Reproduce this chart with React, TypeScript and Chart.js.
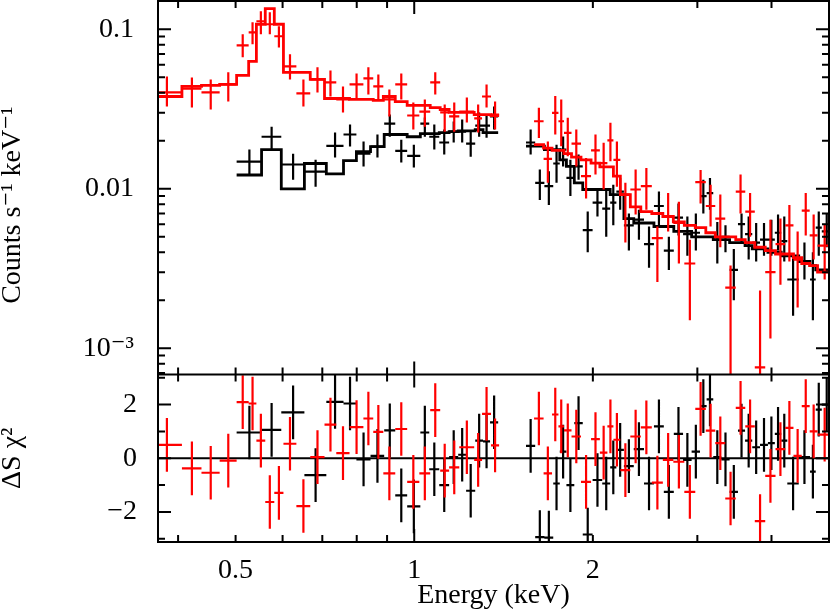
import React, { useEffect, useRef } from 'react';
import { Chart, registerables } from 'chart.js';

Chart.register(...registerables);

// ---------------- axis ranges ----------------
const X_MIN = 0.37;
const X_MAX = 5.0;
const Y_MIN = 6.85e-4;
const Y_MAX = 0.1504;
const R_MIN = -3.12;
const R_MAX = 3.12;

// ---------------- tick definitions ----------------
const xMajorTicks = [1];
const xMinorTicks = [0.4, 0.5, 0.6, 0.7, 0.8, 0.9, 2, 3, 4];
const xLabelValues = [0.5, 1, 2];
const xLabelTexts = ['0.5', '1', '2'];

const yMajorTicks = [0.001, 0.01, 0.1];
const yMinorMantissas = [2, 3, 4, 5, 6, 7, 8, 9];
const yMinorDecades = [0.0001, 0.001, 0.01];
const yLabelValues = [0.001, 0.01, 0.1];
const yLabelTexts = ['10\u207B\u00B3', '0.01', '0.1'];

const rMajorTicks = [-2, 0, 2];
const rMinorTicks = [-3, -1, 1, 3];
const rLabelValues = [-2, 0, 2];
const rLabelTexts = ['\u22122', '0', '2'];

// ---------------- red spectrum (segment 1: 0.37-1.39 keV) ----------------
const redEdges1 = [0.36, 0.406, 0.438, 0.470, 0.502, 0.526, 0.542, 0.561, 0.581, 0.602, 0.633, 0.668, 0.706, 0.739, 0.778, 0.821, 0.853, 0.887, 0.929, 0.973, 1.020, 1.064, 1.106, 1.145, 1.191, 1.262, 1.301, 1.347, 1.390];
const redY1 = [0.0402, 0.0425, 0.0402, 0.0451, 0.0793, 0.0957, 0.1123, 0.1075, 0.0904, 0.0585, 0.0396, 0.0485, 0.0464, 0.0363, 0.0451, 0.0492, 0.0438, 0.0363, 0.0451, 0.0288, 0.0305, 0.0464, 0.0301, 0.0284, 0.0305, 0.0276, 0.0379, 0.0292];
const redLo1 = [0.0328, 0.0323, 0.0314, 0.0352, 0.0667, 0.0805, 0.0930, 0.0930, 0.0770, 0.0485, 0.0328, 0.0402, 0.0379, 0.0301, 0.0363, 0.0390, 0.0363, 0.0284, 0.0363, 0.0235, 0.0245, 0.0390, 0.0228, 0.0228, 0.0260, 0.0225, 0.0323, 0.0235];
const redHi1 = [0.0506, 0.0499, 0.0485, 0.0537, 0.0930, 0.1107, 0.1298, 0.1279, 0.1044, 0.0697, 0.0485, 0.0577, 0.0552, 0.0438, 0.0529, 0.0577, 0.0521, 0.0419, 0.0529, 0.0347, 0.0363, 0.0537, 0.0338, 0.0347, 0.0374, 0.0338, 0.0451, 0.0352];
const redModel1 = [0.0379, 0.0438, 0.0445, 0.0451, 0.0514, 0.0629, 0.1075, 0.1346, 0.1075, 0.0537, 0.0537, 0.0485, 0.0368, 0.0368, 0.0363, 0.0363, 0.0358, 0.0379, 0.0352, 0.0333, 0.0333, 0.0323, 0.0314, 0.0301, 0.0301, 0.0292, 0.0292, 0.0288];
const redRes1 = [0.5, -0.38, -0.54, -0.09, 2.09, 2.04, 0.66, -1.63, -1.29, 0.54, -1.78, 0.04, 1.25, 0.19, 1.16, 1.48, 0.98, -0.56, 1.09, -0.88, -0.56, 1.79, -0.46, -0.34, 0.41, -0.06, 1.65, 0.48];

// ---------------- red spectrum (segment 2: 1.59-5 keV) ----------------
const redEdges2 = [1.592, 1.652, 1.707, 1.750, 1.788, 1.841, 1.910, 1.986, 2.055, 2.116, 2.166, 2.225, 2.313, 2.409, 2.514, 2.624, 2.733, 2.852, 2.976, 3.100, 3.216, 3.343, 3.482, 3.613, 3.749, 3.904, 4.063, 4.219, 4.356, 4.498, 4.639, 4.783, 5.05];
const redY2 = [0.0265, 0.0154, 0.0299, 0.0265, 0.0224, 0.0192, 0.0120, 0.0174, 0.0145, 0.0201, 0.0152, 0.0092, 0.0099, 0.0104, 0.0049, 0.0067, 0.0061, 0.0034, 0.0110, 0.0078, 0.0065, 0.0024, 0.0096, 0.0072, 0.00076, 0.0030, 0.0045, 0.0059, 0.0036, 0.0073, 0.0051, 0.0044];
const redLo2 = [0.0208, 0.0109, 0.0219, 0.0185, 0.0160, 0.0138, 0.0087, 0.0123, 0.0099, 0.0149, 0.0103, 0.0046, 0.0069, 0.0074, 0.0026, 0.0054, 0.0034, 0.0015, 0.0081, 0.0058, 0.0043, 0.0001, 0.0070, 0.0050, 0.0001, 0.00115, 0.0025, 0.0035, 0.0018, 0.0051, 0.0036, 0.0027];
const redHi2 = [0.0322, 0.0198, 0.0381, 0.0363, 0.0279, 0.0235, 0.0156, 0.0219, 0.0194, 0.0259, 0.0198, 0.0109, 0.0132, 0.0135, 0.0058, 0.0094, 0.0083, 0.0048, 0.0131, 0.0106, 0.0092, 0.0033, 0.0123, 0.0094, 0.0023, 0.0064, 0.0065, 0.0079, 0.0054, 0.0094, 0.0069, 0.0060];
const redModel2 = [0.0189, 0.0180, 0.0174, 0.0174, 0.0166, 0.0158, 0.0152, 0.0145, 0.0137, 0.0137, 0.0120, 0.0092, 0.0077, 0.0072, 0.0070, 0.0067, 0.0062, 0.0059, 0.0057, 0.0053, 0.0050, 0.0050, 0.0048, 0.0046, 0.0043, 0.0041, 0.0039, 0.0039, 0.0037, 0.0034, 0.0033, 0.0030];
const redRes2 = [1.48, -0.56, 1.63, 1.19, 1.04, 0.81, -0.88, 0.71, 0.21, 1.19, 0.69, -0.44, 0.81, 1.15, -0.91, -0.06, -0.13, -1.25, 1.84, 1.03, 0.56, -1.5, 1.88, 1.19, -2.34, -0.66, 0.34, 1.13, 0.09, 1.94, 1.0, 0.88];

// ---------------- black spectrum (segment 1: 0.5-1.39 keV) ----------------
const blackEdges1 = [0.502, 0.553, 0.597, 0.653, 0.711, 0.760, 0.799, 0.844, 0.890, 0.929, 0.973, 1.024, 1.060, 1.102, 1.145, 1.186, 1.223, 1.267, 1.306, 1.342, 1.385];
const blackY1 = [0.0148, 0.0212, 0.0142, 0.0128, 0.0186, 0.0219, 0.0166, 0.0184, 0.0256, 0.0173, 0.0161, 0.0256, 0.0212, 0.0195, 0.0228, 0.0228, 0.0192, 0.0249, 0.0249, 0.0284];
const blackLo1 = [0.0122, 0.0176, 0.0114, 0.0103, 0.0157, 0.0184, 0.0138, 0.0157, 0.0212, 0.0146, 0.0136, 0.0212, 0.0176, 0.0164, 0.0195, 0.0195, 0.0159, 0.0212, 0.0209, 0.0235];
const blackHi1 = [0.0176, 0.0245, 0.0166, 0.0152, 0.0225, 0.0253, 0.0198, 0.0219, 0.0292, 0.0203, 0.0189, 0.0280, 0.0253, 0.0235, 0.0264, 0.0272, 0.0228, 0.0301, 0.0292, 0.0328];
const blackModel1 = [0.0122, 0.0176, 0.0100, 0.0144, 0.0124, 0.0150, 0.0171, 0.0184, 0.0219, 0.0219, 0.0212, 0.0222, 0.0222, 0.0225, 0.0228, 0.0231, 0.0231, 0.0235, 0.0225, 0.0225];
const blackRes1 = [0.96, 1.06, 1.71, -0.63, 2.1, 2.04, -0.04, 0.09, 1.04, -1.38, -1.79, 0.96, -0.41, -1.0, 0.04, 0.13, -1.21, 0.66, 0.63, 1.34];

// ---------------- black spectrum (segment 2: 1.54-5 keV) ----------------
const blackEdges2 = [1.543, 1.599, 1.657, 1.715, 1.759, 1.805, 1.861, 1.923, 1.998, 2.074, 2.139, 2.191, 2.256, 2.344, 2.439, 2.535, 2.634, 2.738, 2.838, 2.934, 3.031, 3.110, 3.191, 3.292, 3.400, 3.512, 3.610, 3.712, 3.826, 3.945, 4.052, 4.154, 4.253, 4.446, 4.645, 4.749, 4.862, 5.05];
const blackY2 = [0.0195, 0.0109, 0.0104, 0.0144, 0.0176, 0.0117, 0.0138, 0.0055, 0.0082, 0.0075, 0.0082, 0.0096, 0.0059, 0.0064, 0.0045, 0.0078, 0.0041, 0.0066, 0.0052, 0.0053, 0.0090, 0.0094, 0.0048, 0.0050, 0.0031, 0.0060, 0.0052, 0.0046, 0.0048, 0.0048, 0.0053, 0.0047, 0.0027, 0.0035, 0.0027, 0.0057, 0.0054];
const blackLo2 = [0.0164, 0.0085, 0.0079, 0.0109, 0.0138, 0.0090, 0.0114, 0.0040, 0.0067, 0.0050, 0.0059, 0.0074, 0.0041, 0.0048, 0.0032, 0.0057, 0.0031, 0.0051, 0.0038, 0.0041, 0.0070, 0.0074, 0.0034, 0.0040, 0.0020, 0.0046, 0.0036, 0.0035, 0.0038, 0.0038, 0.0041, 0.0035, 0.0016, 0.0027, 0.0015, 0.0038, 0.0043];
const blackHi2 = [0.0235, 0.0132, 0.0129, 0.0189, 0.0213, 0.0152, 0.0164, 0.0072, 0.0101, 0.0099, 0.0106, 0.0117, 0.0070, 0.0074, 0.0058, 0.0096, 0.0050, 0.0081, 0.0067, 0.0070, 0.0114, 0.0117, 0.0062, 0.0059, 0.0042, 0.0070, 0.0067, 0.0061, 0.0061, 0.0064, 0.0069, 0.0067, 0.0039, 0.0046, 0.0040, 0.0072, 0.0070];
const blackModel2 = [0.0185, 0.0185, 0.0176, 0.0176, 0.0152, 0.0138, 0.0109, 0.0099, 0.0099, 0.0099, 0.0092, 0.0092, 0.0065, 0.0061, 0.0061, 0.0058, 0.0058, 0.0054, 0.0054, 0.0050, 0.0050, 0.0050, 0.0048, 0.0048, 0.0046, 0.0046, 0.0044, 0.0042, 0.0042, 0.0040, 0.0040, 0.0038, 0.0038, 0.0035, 0.0033, 0.0031, 0.0031];
const blackRes2 = [0.46, -2.94, -2.96, -0.94, 0.25, -1.0, 1.31, -2.84, -0.81, -0.94, -0.34, 0.31, -0.29, 0.34, -0.94, 1.19, -1.25, 0.91, -0.06, 0.25, 1.94, 2.19, 0.04, -0.04, -1.25, 1.03, 0.66, 0.41, 0.5, 0.56, 0.91, 0.66, -0.94, 0.04, -0.5, 1.81, 2.0];

// ---------------- styling ----------------
const RED = '#ff0000';
const BLACK = '#000000';
const FONT = "'Liberation Serif', 'DejaVu Serif', 'Times New Roman', serif";
const FONT_SIZE = 28;
const MODEL_WIDTH = 2.8;
const BAR_WIDTH = 2.2;

type Pt = { x: number; y: number | null };

const clampX = (v: number) => Math.min(Math.max(v, X_MIN), X_MAX);
const GAP: Pt = { x: 1, y: null };

function crosses(edges: number[], y: number[], lo: number[], hi: number[], min: number, max: number): Pt[] {
  const out: Pt[] = [];
  for (let i = 0; i < y.length; i++) {
    const a = edges[i];
    const b = edges[i + 1];
    const mid = clampX((a + b) / 2);
    out.push({ x: clampX(a), y: y[i] }, { x: clampX(b), y: y[i] }, { x: mid, y: null });
    out.push({ x: mid, y: Math.max(lo[i], min) }, { x: mid, y: Math.min(hi[i], max) }, { x: mid, y: null });
  }
  return out;
}

function resCrosses(edges: number[], r: number[]): Pt[] {
  const lo = r.map((v) => v - 1);
  const hi = r.map((v) => v + 1);
  return crosses(edges, r, lo, hi, R_MIN, R_MAX);
}

function steps(edges: number[], m: number[]): Pt[] {
  const out: Pt[] = m.map((v, i) => ({ x: clampX(edges[i]), y: v }));
  out.push({ x: clampX(edges[edges.length - 1]), y: m[m.length - 1] });
  return out;
}

function lineSet(label: string, data: Pt[], color: string, width: number, yAxisID: string, stepped: boolean | string = false) {
  return {
    type: 'line' as const,
    label,
    data,
    borderColor: color,
    backgroundColor: color,
    borderWidth: width,
    pointRadius: 0,
    pointHoverRadius: 0,
    pointHitRadius: 0,
    spanGaps: false,
    stepped: stepped as any,
    tension: 0,
    fill: false,
    borderCapStyle: 'butt' as const,
    borderJoinStyle: 'miter' as const,
    xAxisID: 'x',
    yAxisID,
  };
}

const panelAxesPlugin = {
  id: 'panelAxes',
  afterDatasetsDraw(chart: any) {
    const { ctx } = chart;
    const sx = chart.scales.x;
    const sy = chart.scales.y;
    const sr = chart.scales.res;
    const L = sx.left;
    const R = sx.right;
    const MAJ = 13;
    const MIN = 7;
    ctx.save();
    ctx.strokeStyle = '#000';
    ctx.lineWidth = 2;
    ctx.lineCap = 'butt';
    ctx.beginPath();
    const seg = (x1: number, y1: number, x2: number, y2: number) => {
      ctx.moveTo(x1, y1);
      ctx.lineTo(x2, y2);
    };
    const xt: [number, number][] = [
      ...xMinorTicks.map((v) => [v, MIN] as [number, number]),
      ...xMajorTicks.map((v) => [v, MAJ] as [number, number]),
    ];
    xt.forEach(([v, len]) => {
      const px = sx.getPixelForValue(v);
      if (px <= L + 1 || px >= R - 1) return;
      seg(px, sy.top, px, sy.top + len);
      seg(px, sy.bottom, px, sy.bottom - len);
      seg(px, sr.top, px, sr.top + len);
      seg(px, sr.bottom, px, sr.bottom - len);
    });
    const yt: [number, number][] = [];
    yMajorTicks.forEach((v) => yt.push([v, MAJ]));
    yMinorDecades.forEach((d) => yMinorMantissas.forEach((m) => yt.push([m * d, MIN])));
    yt.forEach(([v, len]) => {
      if (v < Y_MIN || v > Y_MAX) return;
      const py = sy.getPixelForValue(v);
      seg(L, py, L + len, py);
      seg(R, py, R - len, py);
    });
    const rt: [number, number][] = [
      ...rMajorTicks.map((v) => [v, MAJ] as [number, number]),
      ...rMinorTicks.map((v) => [v, MIN] as [number, number]),
    ];
    rt.forEach(([v, len]) => {
      const py = sr.getPixelForValue(v);
      seg(L, py, L + len, py);
      seg(R, py, R - len, py);
    });
    ctx.stroke();
    ctx.beginPath();
    ctx.rect(L, sy.top, R - L, sr.bottom - sy.top);
    seg(L, sy.bottom, R, sy.bottom);
    ctx.stroke();
    ctx.restore();
  },
};

function labelFor(values: number[], texts: string[]) {
  return (v: any) => {
    const n = Number(v);
    for (let i = 0; i < values.length; i++) {
      if (Math.abs(n - values[i]) <= Math.abs(values[i]) * 1e-6 + 1e-9) return texts[i];
    }
    return '';
  };
}

const noPadding = (s: any) => {
  s.paddingTop = 0;
  s.paddingBottom = 0;
  s.paddingLeft = 0;
  s.paddingRight = 0;
};

export default function App() {
  const ref = useRef<HTMLCanvasElement>(null);

  useEffect(() => {
    if (!ref.current) return;
    Chart.defaults.font.family = FONT;
    Chart.defaults.color = '#000';

    const redTop = [...crosses(redEdges1, redY1, redLo1, redHi1, Y_MIN, Y_MAX), GAP, ...crosses(redEdges2, redY2, redLo2, redHi2, Y_MIN, Y_MAX)];
    const blackTop = [...crosses(blackEdges1, blackY1, blackLo1, blackHi1, Y_MIN, Y_MAX), GAP, ...crosses(blackEdges2, blackY2, blackLo2, blackHi2, Y_MIN, Y_MAX)];
    const redModel = [...steps(redEdges1, redModel1), { x: 1.45, y: null }, ...steps(redEdges2, redModel2)];
    const blackModel = [...steps(blackEdges1, blackModel1), { x: 1.45, y: null }, ...steps(blackEdges2, blackModel2)];
    const redRes = [...resCrosses(redEdges1, redRes1), GAP, ...resCrosses(redEdges2, redRes2)];
    const blackRes = [...resCrosses(blackEdges1, blackRes1), GAP, ...resCrosses(blackEdges2, blackRes2)];
    const zeroLine: Pt[] = [{ x: X_MIN, y: 0 }, { x: X_MAX, y: 0 }];

    const tickFont = { family: FONT, size: FONT_SIZE };

    const chart = new Chart(ref.current, {
      type: 'line',
      data: {
        datasets: [
          lineSet('red model', redModel, RED, MODEL_WIDTH, 'y', 'before'),
          lineSet('red data', redTop, RED, BAR_WIDTH, 'y'),
          lineSet('red residuals', redRes, RED, BAR_WIDTH, 'res'),
          lineSet('black model', blackModel, BLACK, MODEL_WIDTH, 'y', 'before'),
          lineSet('black data', blackTop, BLACK, BAR_WIDTH, 'y'),
          lineSet('black residuals', blackRes, BLACK, BAR_WIDTH, 'res'),
          lineSet('zero', zeroLine, BLACK, 2, 'res'),
        ] as any,
      },
      options: {
        animation: false,
        responsive: false,
        devicePixelRatio: 1,
        events: [],
        layout: { padding: { top: 1, right: 1, left: 0, bottom: 0 } },
        plugins: { legend: { display: false }, tooltip: { enabled: false } },
        scales: {
          x: {
            type: 'logarithmic',
            position: 'bottom',
            min: X_MIN,
            max: X_MAX,
            grid: { display: false, drawTicks: false },
            border: { display: false },
            afterBuildTicks: (s: any) => {
              s.ticks = xLabelValues.map((v) => ({ value: v }));
            },
            afterFit: (s: any) => {
              s.height = 70;
              noPadding(s);
            },
            ticks: {
              autoSkip: false,
              maxRotation: 0,
              minRotation: 0,
              padding: 12,
              font: tickFont,
              color: '#000',
              callback: labelFor(xLabelValues, xLabelTexts),
            },
            title: { display: true, text: 'Energy (keV)', font: tickFont, color: '#000', padding: 0 },
          },
          y: {
            type: 'logarithmic',
            position: 'left',
            stack: 'panels',
            stackWeight: 373.5,
            weight: 1,
            min: Y_MIN,
            max: Y_MAX,
            grid: { display: false, drawTicks: false },
            border: { display: false },
            afterBuildTicks: (s: any) => {
              s.ticks = yLabelValues.map((v) => ({ value: v }));
            },
            afterFit: (s: any) => {
              s.width = 158;
              noPadding(s);
            },
            ticks: {
              autoSkip: false,
              padding: 24,
              font: tickFont,
              color: '#000',
              callback: labelFor(yLabelValues, yLabelTexts),
            },
            title: {
              display: true,
              text: 'Counts s\u207B\u00B9 keV\u207B\u00B9\u00A0\u00A0\u00A0\u00A0\u00A0',
              font: tickFont,
              color: '#000',
              padding: { top: -4, bottom: 0 },
            },
          },
          res: {
            type: 'linear',
            position: 'left',
            stack: 'panels',
            stackWeight: 167.5,
            weight: 0,
            min: R_MIN,
            max: R_MAX,
            grid: { display: false, drawTicks: false },
            border: { display: false },
            afterBuildTicks: (s: any) => {
              s.ticks = rLabelValues.map((v) => ({ value: v }));
            },
            afterFit: (s: any) => {
              s.width = 158;
              noPadding(s);
            },
            ticks: {
              autoSkip: false,
              padding: 21,
              font: tickFont,
              color: '#000',
              callback: labelFor(rLabelValues, rLabelTexts),
            },
            title: {
              display: true,
              text: '\u0394S \u03C7\u00B2',
              font: tickFont,
              color: '#000',
              padding: { top: -4, bottom: 0 },
            },
          },
        },
      } as any,
      plugins: [panelAxesPlugin],
    });

    return () => chart.destroy();
  }, []);

  return (
    <div style={{ position: 'absolute', left: 0, top: 0, width: 830, height: 612, background: '#ffffff' }}>
      <canvas ref={ref} width={830} height={612} style={{ display: 'block', width: 830, height: 612 }} />
    </div>
  );
}
